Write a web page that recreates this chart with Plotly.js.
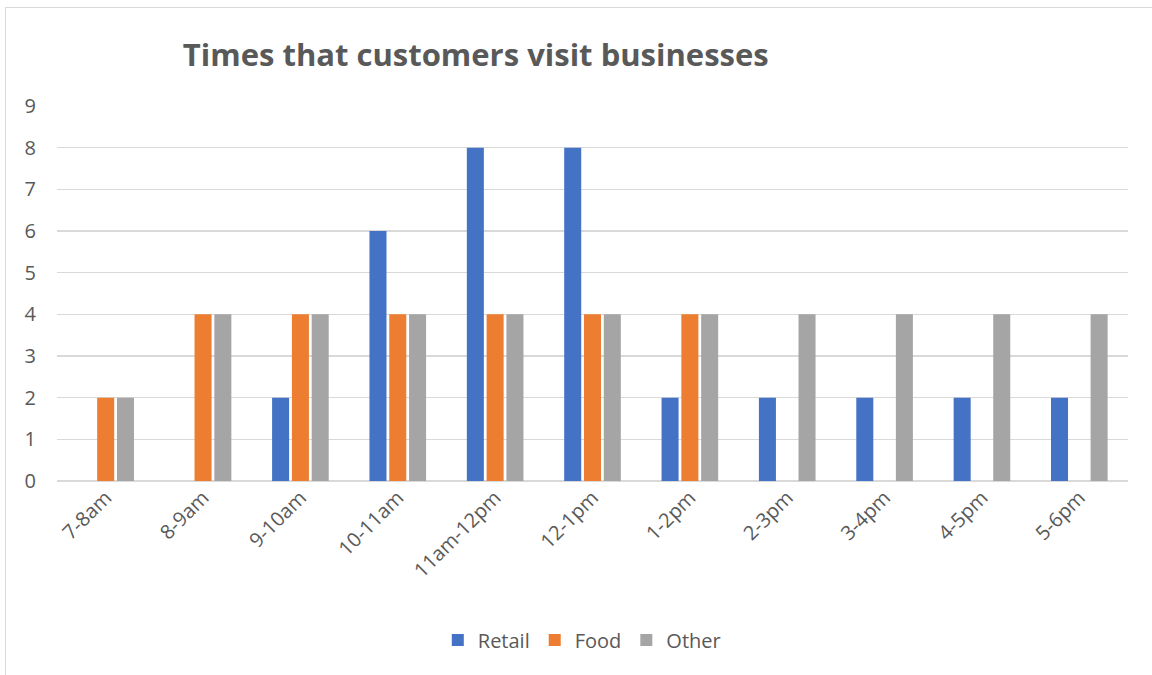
<!DOCTYPE html>
<html>
<head>
<meta charset="utf-8">
<script src="https://cdn.plot.ly/plotly-3.0.1.min.js"></script>
<style>
  html, body { margin: 0; padding: 0; background: #fff; }
  #wrap { position: relative; width: 1152px; height: 675px; }
  #chart { width: 1152px; height: 675px; }
  #frame { position: absolute; left: 5px; top: 7px; right: -2px; bottom: -2px;
           border-left: 1px solid #d9d9d9; border-top: 1px solid #d9d9d9; pointer-events: none; }
</style>
</head>
<body>
<div id="wrap">
  <div id="chart"></div>
  <div id="frame"></div>
</div>
<script>
const categories = ["7-8am", "8-9am", "9-10am", "10-11am", "11am-12pm", "12-1pm", "1-2pm", "2-3pm", "3-4pm", "4-5pm", "5-6pm"];
const retail = [0, 0, 2, 6, 8, 8, 2, 2, 2, 2, 2];
const food   = [2, 4, 4, 4, 4, 4, 4, 0, 0, 0, 0];
const other  = [2, 4, 4, 4, 4, 4, 4, 4, 4, 4, 4];
const yTicks = [0, 1, 2, 3, 4, 5, 6, 7, 8, 9];

const font = "Open Sans, Noto Sans, sans-serif";
const textColor = "#595959";

const traces = [
  { type: "bar", name: "Retail", x: categories, y: retail, marker: { color: "#4472C4" } },
  { type: "bar", name: "Food",   x: categories, y: food,   marker: { color: "#ED7D31" } },
  { type: "bar", name: "Other",  x: categories, y: other,  marker: { color: "#A5A5A5" } }
];

const layout = {
  width: 1152, height: 675,
  margin: { l: 57, r: 24, t: 106, b: 194 },
  paper_bgcolor: "#ffffff", plot_bgcolor: "#ffffff",
  barmode: "group", bargap: 0.39, bargroupgap: 0.14,
  title: {
    text: "<b>Times that customers visit businesses</b>",
    font: { family: font, size: 31, color: textColor },
    xref: "container", x: 0.413, xanchor: "center",
    yref: "container", y: 1 - 55/675, yanchor: "middle"
  },
  xaxis: {
    type: "category",
    tickangle: -45,
    tickfont: { family: font, size: 20, color: textColor },
    showgrid: false, showline: false, ticks: "", zeroline: false
  },
  yaxis: {
    range: [0, 9],
    tickvals: yTicks,
    ticktext: yTicks.map(String),
    tickfont: { family: font, size: 20, color: textColor },
    gridcolor: "#d9d9d9", gridwidth: 1.5,
    zeroline: true, zerolinecolor: "#d9d9d9", zerolinewidth: 1.5,
    showline: false, ticks: "", ticklabelstandoff: 20
  },
  showlegend: true,
  legend: {
    orientation: "h", x: 0.49, xanchor: "center", y: -0.424, yanchor: "middle",
    font: { family: font, size: 20, color: textColor },
    itemwidth: 30, traceorder: "normal"
  }
};

Plotly.newPlot("chart", traces, layout, { displayModeBar: false, staticPlot: true });
</script>
</body>
</html>
